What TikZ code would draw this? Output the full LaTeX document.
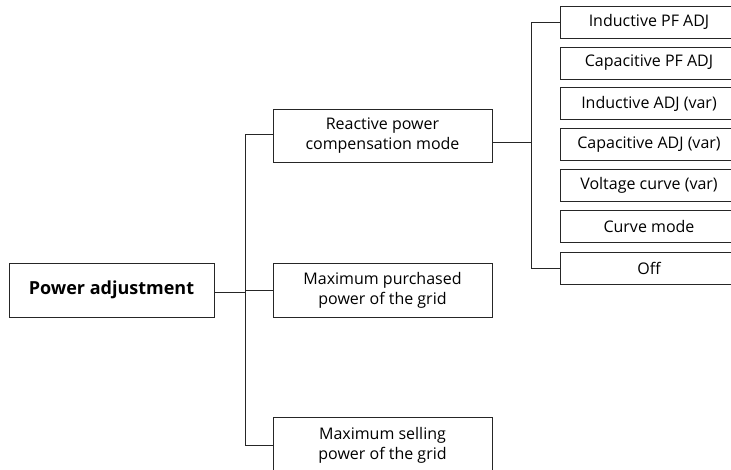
\documentclass[tikz,border=0pt]{standalone}
\usepackage{fontspec}
\setmainfont{Open Sans}
\begin{document}
\begin{tikzpicture}[x=1pt,y=-1pt,
  box/.style={draw=black!85,line width=0.9pt,align=center,inner sep=0pt,font=\fontsize{16}{20}\selectfont},
  leaf/.style={box,minimum width=178pt,minimum height=32pt},
  mid/.style={box,minimum width=219pt,minimum height=53pt},
  conn/.style={draw=black!85,line width=0.9pt}]
\clip (0,0) rectangle (731,470);
\fill[white] (0,0) rectangle (731,470);
\node[box,minimum width=205pt,minimum height=54pt,font=\fontsize{18}{22}\selectfont\bfseries] (pa) at (111.5,290) {Power adjustment};
\node[mid] (rc) at (382.5,135.5) {Reactive power\\compensation mode};
\node[mid,minimum height=54pt] (mp) at (382.5,290) {Maximum purchased\\power of the grid};
\node[mid,minimum height=56pt] (ms) at (382.5,445) {Maximum selling\\power of the grid};
\node[leaf] (l1) at (649,22) {Inductive PF ADJ};
\node[leaf] (l2) at (649,63) {Capacitive PF ADJ};
\node[leaf] (l3) at (649,103.5) {Inductive ADJ (var)};
\node[leaf] (l4) at (649,144.5) {Capacitive ADJ (var)};
\node[leaf] (l5) at (649,185.5) {Voltage curve (var)};
\node[leaf] (l6) at (649,226.5) {Curve mode};
\node[leaf] (l7) at (649,268) {Off};
\coordinate (t1) at (245,0);
\coordinate (t2) at (531,0);
\draw[conn] ([yshift=-2pt]pa.east) -- ([yshift=-2pt]pa.east -| t1);
\draw[conn] ([yshift=1.5pt]rc.west) -| (t1 |- ms.west) -- (ms.west);
\draw[conn] (mp.west -| t1) -- (mp.west);
\draw[conn] ([yshift=-6.5pt]rc.east) -- ([yshift=-6.5pt]rc.east -| t2);
\draw[conn] (l1.west) -| (t2 |- l7.west) -- (l7.west);
\end{tikzpicture}
\end{document}
